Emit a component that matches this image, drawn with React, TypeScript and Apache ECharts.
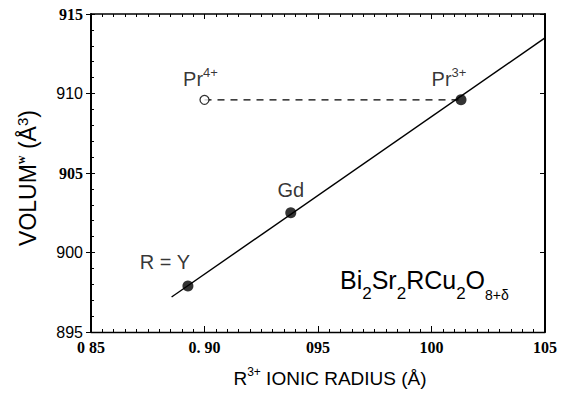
import React, { useEffect, useRef } from "react";
import * as echarts from "echarts";

const xTickValues = [0.85, 0.9, 0.95, 1.0, 1.05];
const xTickLabels = ["0 85", "0. 90", "095", "100", "105"];
const yTickValues = [895, 900, 905, 910, 915];
const yTickLabels = ["895", "900", "905", "910", "915"];
const yTickBoldSerif = [false, false, true, false, true];

const pointNames = ["R = Y", "Gd", "Pr3+"];
const pointRadius = [0.8927, 0.938, 1.013];
const pointVolume = [897.9, 902.5, 909.6];

const openNames = ["Pr4+"];
const openRadius = [0.9];
const openVolume = [909.6];

const fitRadius = [0.8855, 1.05];
const fitVolume = [897.2, 913.5];

const dashRadius = [0.9, 1.013];
const dashVolume = [909.6, 909.6];

const SANS = "'Liberation Sans', Arial, sans-serif";
const SERIF = "'Liberation Serif', 'Times New Roman', serif";

const labelText = (name: string) => {
  const m = name.match(/^(.*?)(\d\+)$/);
  if (m) return `${m[1]}{sup|${m[2]}}`;
  return name;
};

const labelRich = {
  sup: { fontSize: 13, lineHeight: 13, verticalAlign: "top", fontFamily: SANS, color: "#000" },
};

const labelOffsets: Record<string, { offset: number[]; distance: number }> = {
  "R = Y": { offset: [-23, 0], distance: 5 },
  Gd: { offset: [0, 0], distance: 4 },
  "Pr3+": { offset: [-12, 0], distance: 2 },
  "Pr4+": { offset: [-4, 0], distance: 3 },
};

export default function App() {
  const ref = useRef<HTMLDivElement>(null);
  useEffect(() => {
    if (!ref.current) return;
    const chart = echarts.init(ref.current, null, { renderer: "svg" });
    const axisLineStyle = { color: "#000", width: 1.5 };
    const xFormatter = (v: number) => {
      const i = xTickValues.findIndex((t) => Math.abs(t - v) < 1e-6);
      return i >= 0 ? `{b|${xTickLabels[i]}}` : "";
    };
    const yFormatter = (v: number) => {
      const i = yTickValues.findIndex((t) => Math.abs(t - v) < 1e-6);
      if (i < 0) return "";
      return yTickBoldSerif[i] ? `{b|${yTickLabels[i]}}` : `{n|${yTickLabels[i]}}`;
    };
    const common = { min: 0.85, max: 1.05, interval: 0.05, type: "value" as const };
    const ycommon = { min: 895, max: 915, interval: 5, type: "value" as const };

    const mkLabel = (name: string) => {
      const o = labelOffsets[name] || { offset: [0, 0], distance: 4 };
      return {
        show: true,
        position: "top",
        distance: o.distance,
        offset: o.offset,
        formatter: labelText(name),
        fontFamily: SANS,
        fontSize: 20,
        lineHeight: 26,
        color: "#000",
        rich: labelRich,
      };
    };

    chart.setOption({
      animation: false,
      backgroundColor: "#fff",
      grid: { left: 91, right: 16, top: 14, bottom: 62 },
      xAxis: [
        {
          ...common,
          position: "bottom",
          axisLine: { show: true, lineStyle: { ...axisLineStyle, width: 1.3 } },
          axisTick: { show: true, inside: true, length: 6, lineStyle: { color: "#000" } },
          minorTick: { show: true, splitNumber: 10, length: 3, lineStyle: { color: "#000" } },
          splitLine: { show: false },
          axisLabel: {
            margin: 7,
            showMinLabel: true,
            showMaxLabel: true,
            formatter: xFormatter,
            rich: {
              b: { fontFamily: SERIF, fontWeight: "bold", fontSize: 16, color: "#000" },
            },
          },
          name: "R{sup|3+} IONIC RADIUS (Å)",
          nameLocation: "middle",
          nameGap: 34,
          nameTextStyle: {
            fontFamily: SANS,
            fontSize: 19,
            lineHeight: 24,
            color: "#000",
            padding: [0, 0, 0, 24],
            rich: {
              sup: { fontSize: 12, lineHeight: 12, verticalAlign: "top", fontFamily: SANS, color: "#000" },
            },
          },
        },
        {
          ...common,
          position: "top",
          axisLine: { show: true, lineStyle: axisLineStyle },
          axisTick: { show: true, inside: true, length: 5, lineStyle: { color: "#000" } },
          minorTick: { show: true, splitNumber: 10, length: 3, lineStyle: { color: "#000" } },
          splitLine: { show: false },
          axisLabel: { show: false },
        },
      ],
      yAxis: [
        {
          ...ycommon,
          position: "left",
          axisLine: { show: true, lineStyle: { ...axisLineStyle, width: 2 } },
          axisTick: { show: true, inside: false, length: 5, lineStyle: { color: "#000" } },
          splitLine: { show: false },
          axisLabel: {
            margin: 8,
            showMinLabel: true,
            showMaxLabel: true,
            formatter: yFormatter,
            rich: {
              b: { fontFamily: SERIF, fontWeight: "bold", fontSize: 16, color: "#000" },
              n: { fontFamily: SANS, fontSize: 16, color: "#000" },
            },
          },
          name: "VOLUM{w|w} (Å{sup|3}){g|}",
          nameLocation: "middle",
          nameRotate: 90,
          nameGap: 50,
          nameTextStyle: {
            fontFamily: SANS,
            fontSize: 23,
            lineHeight: 26,
            color: "#000",
            rich: {
              w: { fontFamily: SERIF, fontWeight: "bold", fontSize: 12, lineHeight: 18, verticalAlign: "top", color: "#000" },
              sup: { fontSize: 15, lineHeight: 14, verticalAlign: "top", fontFamily: SANS, color: "#000" },
              g: { width: 10, fontSize: 10 },
            },
          },
        },
        {
          ...ycommon,
          position: "left",
          axisLine: { show: false },
          axisTick: { show: true, inside: true, length: 4, lineStyle: { color: "#000" } },
          minorTick: { show: true, splitNumber: 5, length: 3, lineStyle: { color: "#000" } },
          splitLine: { show: false },
          axisLabel: { show: false },
        },
        {
          ...ycommon,
          position: "right",
          axisLine: { show: true, lineStyle: { ...axisLineStyle, width: 2 } },
          axisTick: { show: true, inside: true, length: 5, lineStyle: { color: "#000" } },
          splitLine: { show: false },
          axisLabel: { show: false },
        },
      ],
      graphic: [
        {
          type: "text",
          x: 340,
          y: 258,
          z: 10,
          style: {
            text: "Bi{s|2}Sr{s|2}RCu{s|2}O{t|8+δ}",
            fontFamily: SANS,
            fontSize: 25,
            lineHeight: 44,
            fill: "#000",
            rich: {
              s: { fontFamily: SANS, fontSize: 17, lineHeight: 17, verticalAlign: "bottom", fill: "#000" },
              t: { fontFamily: SANS, fontSize: 14, lineHeight: 16, verticalAlign: "bottom", fill: "#000" },
            },
          },
        },
      ],
      series: [
        {
          type: "line",
          xAxisIndex: 0,
          yAxisIndex: 0,
          data: fitRadius.map((x, i) => [x, fitVolume[i]]),
          symbol: "none",
          lineStyle: { color: "#000", width: 1.4 },
          z: 2,
        },
        {
          type: "line",
          xAxisIndex: 0,
          yAxisIndex: 0,
          data: dashRadius.map((x, i) => [x, dashVolume[i]]),
          symbol: "none",
          lineStyle: { color: "#000", width: 1.2, type: [7, 6] },
          z: 2,
        },
        {
          type: "scatter",
          xAxisIndex: 0,
          yAxisIndex: 0,
          symbol: "circle",
          symbolSize: 11,
          itemStyle: { color: "#000" },
          data: pointNames.map((n, i) => ({ name: n, value: [pointRadius[i], pointVolume[i]], label: mkLabel(n) })),
          z: 5,
        },
        {
          type: "scatter",
          xAxisIndex: 0,
          yAxisIndex: 0,
          symbol: "circle",
          symbolSize: 9,
          itemStyle: { color: "#fff", borderColor: "#000", borderWidth: 1.3 },
          data: openNames.map((n, i) => ({ name: n, value: [openRadius[i], openVolume[i]], label: mkLabel(n) })),
          z: 5,
        },
      ],
    });
    return () => chart.dispose();
  }, []);
  return <div ref={ref} style={{ width: 561, height: 395, position: "absolute", left: 0, top: 0 }} />;
}
